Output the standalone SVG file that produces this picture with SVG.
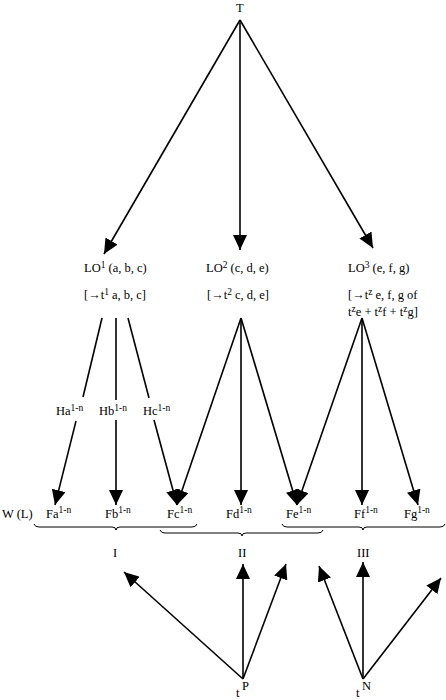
<svg xmlns="http://www.w3.org/2000/svg" width="446" height="700" viewBox="0 0 446 700">
<style>
text{font-family:"Liberation Serif","DejaVu Serif",serif;font-size:12.5px;fill:#000}
.sup{font-size:9.5px}
.ln{stroke:#000;stroke-width:1.6;fill:none}
.br{stroke:#000;stroke-width:1;fill:none}
</style>
<defs>
<marker id="ah" markerUnits="userSpaceOnUse" markerWidth="16" markerHeight="14" refX="15" refY="7" orient="auto">
<path d="M0,0 L15,7 L0,14 z" fill="#000"/>
</marker>
</defs>
<rect width="446" height="700" fill="#fff"/>
<g id="connectors">
<line class="ln" x1="240" y1="20" x2="104" y2="254" marker-end="url(#ah)"/>
<line class="ln" x1="240" y1="20" x2="240" y2="250" marker-end="url(#ah)"/>
<line class="ln" x1="240" y1="20" x2="373" y2="248" marker-end="url(#ah)"/>
<line class="ln" x1="102" y1="318" x2="83" y2="397"/>
<line class="ln" x1="76" y1="421" x2="55" y2="505" marker-end="url(#ah)"/>
<line class="ln" x1="116" y1="318" x2="116" y2="400"/>
<line class="ln" x1="116" y1="420" x2="116" y2="505" marker-end="url(#ah)"/>
<line class="ln" x1="128" y1="318" x2="149" y2="398"/>
<line class="ln" x1="154" y1="420" x2="177" y2="505" marker-end="url(#ah)"/>
<line class="ln" x1="241" y1="318" x2="177" y2="505" marker-end="url(#ah)"/>
<line class="ln" x1="241" y1="318" x2="241" y2="505" marker-end="url(#ah)"/>
<line class="ln" x1="241" y1="318" x2="297" y2="505" marker-end="url(#ah)"/>
<line class="ln" x1="362" y1="318" x2="297" y2="505" marker-end="url(#ah)"/>
<line class="ln" x1="362" y1="318" x2="362" y2="505" marker-end="url(#ah)"/>
<line class="ln" x1="362" y1="318" x2="418" y2="505" marker-end="url(#ah)"/>
<line class="ln" x1="243" y1="679" x2="124" y2="572" marker-end="url(#ah)"/>
<line class="ln" x1="243" y1="679" x2="243" y2="564" marker-end="url(#ah)"/>
<line class="ln" x1="243" y1="679" x2="286" y2="564" marker-end="url(#ah)"/>
<line class="ln" x1="363" y1="679" x2="319" y2="566" marker-end="url(#ah)"/>
<line class="ln" x1="363" y1="679" x2="363" y2="562" marker-end="url(#ah)"/>
<line class="ln" x1="363" y1="679" x2="441" y2="578" marker-end="url(#ah)"/>
</g>
<g id="T"><text x="236" y="12">T</text></g>
<g id="LO1">
<text x="84" y="272">LO<tspan class="sup" dy="-4">1</tspan><tspan dy="4"> (a, b, c)</tspan></text>
<text x="84" y="299">[→t<tspan class="sup" dy="-4">1</tspan><tspan dy="4"> a, b, c]</tspan></text>
</g>
<g id="LO2">
<text x="206" y="272">LO<tspan class="sup" dy="-4">2</tspan><tspan dy="4"> (c, d, e)</tspan></text>
<text x="207" y="299">[→t<tspan class="sup" dy="-4">2</tspan><tspan dy="4"> c, d, e]</tspan></text>
</g>
<g id="LO3">
<text x="348" y="272">LO<tspan class="sup" dy="-4">3</tspan><tspan dy="4"> (e, f, g)</tspan></text>
<text x="348" y="299">[→t<tspan class="sup" dy="-4">z</tspan><tspan dy="4"> e, f, g of</tspan></text>
<text x="348" y="316">t<tspan class="sup" dy="-4">z</tspan><tspan dy="4">e + t</tspan><tspan class="sup" dy="-4">z</tspan><tspan dy="4">f + t</tspan><tspan class="sup" dy="-4">z</tspan><tspan dy="4">g]</tspan></text>
</g>
<g id="H">
<text x="56" y="415">Ha<tspan class="sup" dy="-4">1-n</tspan></text>
<text x="99" y="415">Hb<tspan class="sup" dy="-4">1-n</tspan></text>
<text x="143" y="415">Hc<tspan class="sup" dy="-4">1-n</tspan></text>
</g>
<g id="F">
<text x="2" y="518">W (L)</text>
<text x="46" y="518">Fa<tspan class="sup" dy="-5">1-n</tspan></text>
<text x="105" y="518">Fb<tspan class="sup" dy="-5">1-n</tspan></text>
<text x="167" y="518">Fc<tspan class="sup" dy="-5">1-n</tspan></text>
<text x="226" y="518">Fd<tspan class="sup" dy="-5">1-n</tspan></text>
<text x="286" y="518">Fe<tspan class="sup" dy="-5">1-n</tspan></text>
<text x="354" y="518">Ff<tspan class="sup" dy="-5">1-n</tspan></text>
<text x="404" y="518">Fg<tspan class="sup" dy="-5">1-n</tspan></text>
</g>
<g id="braces">
<path class="br" d="M34,524 Q35,527 39,527 L112,527 Q116,527 116,530 Q116,527 120,527 L192,527 Q196,527 197,524"/>
<path class="br" d="M160,530 Q161,533 165,533 L238,533 Q242,533 242,536 Q242,533 246,533 L318,533 Q322,533 323,530"/>
<path class="br" d="M282,524 Q283,527 287,527 L359,527 Q363,527 363,530 Q363,527 367,527 L440,527 Q444,527 445,524"/>
</g>
<g id="groups">
<text x="113" y="557">I</text>
<text x="238" y="557">II</text>
<text x="357" y="557">III</text>
</g>
<g id="tP"><text x="236" y="697">t</text><text x="242" y="690">P</text></g>
<g id="tN"><text x="356" y="697">t</text><text x="362" y="690">N</text></g>
</svg>
